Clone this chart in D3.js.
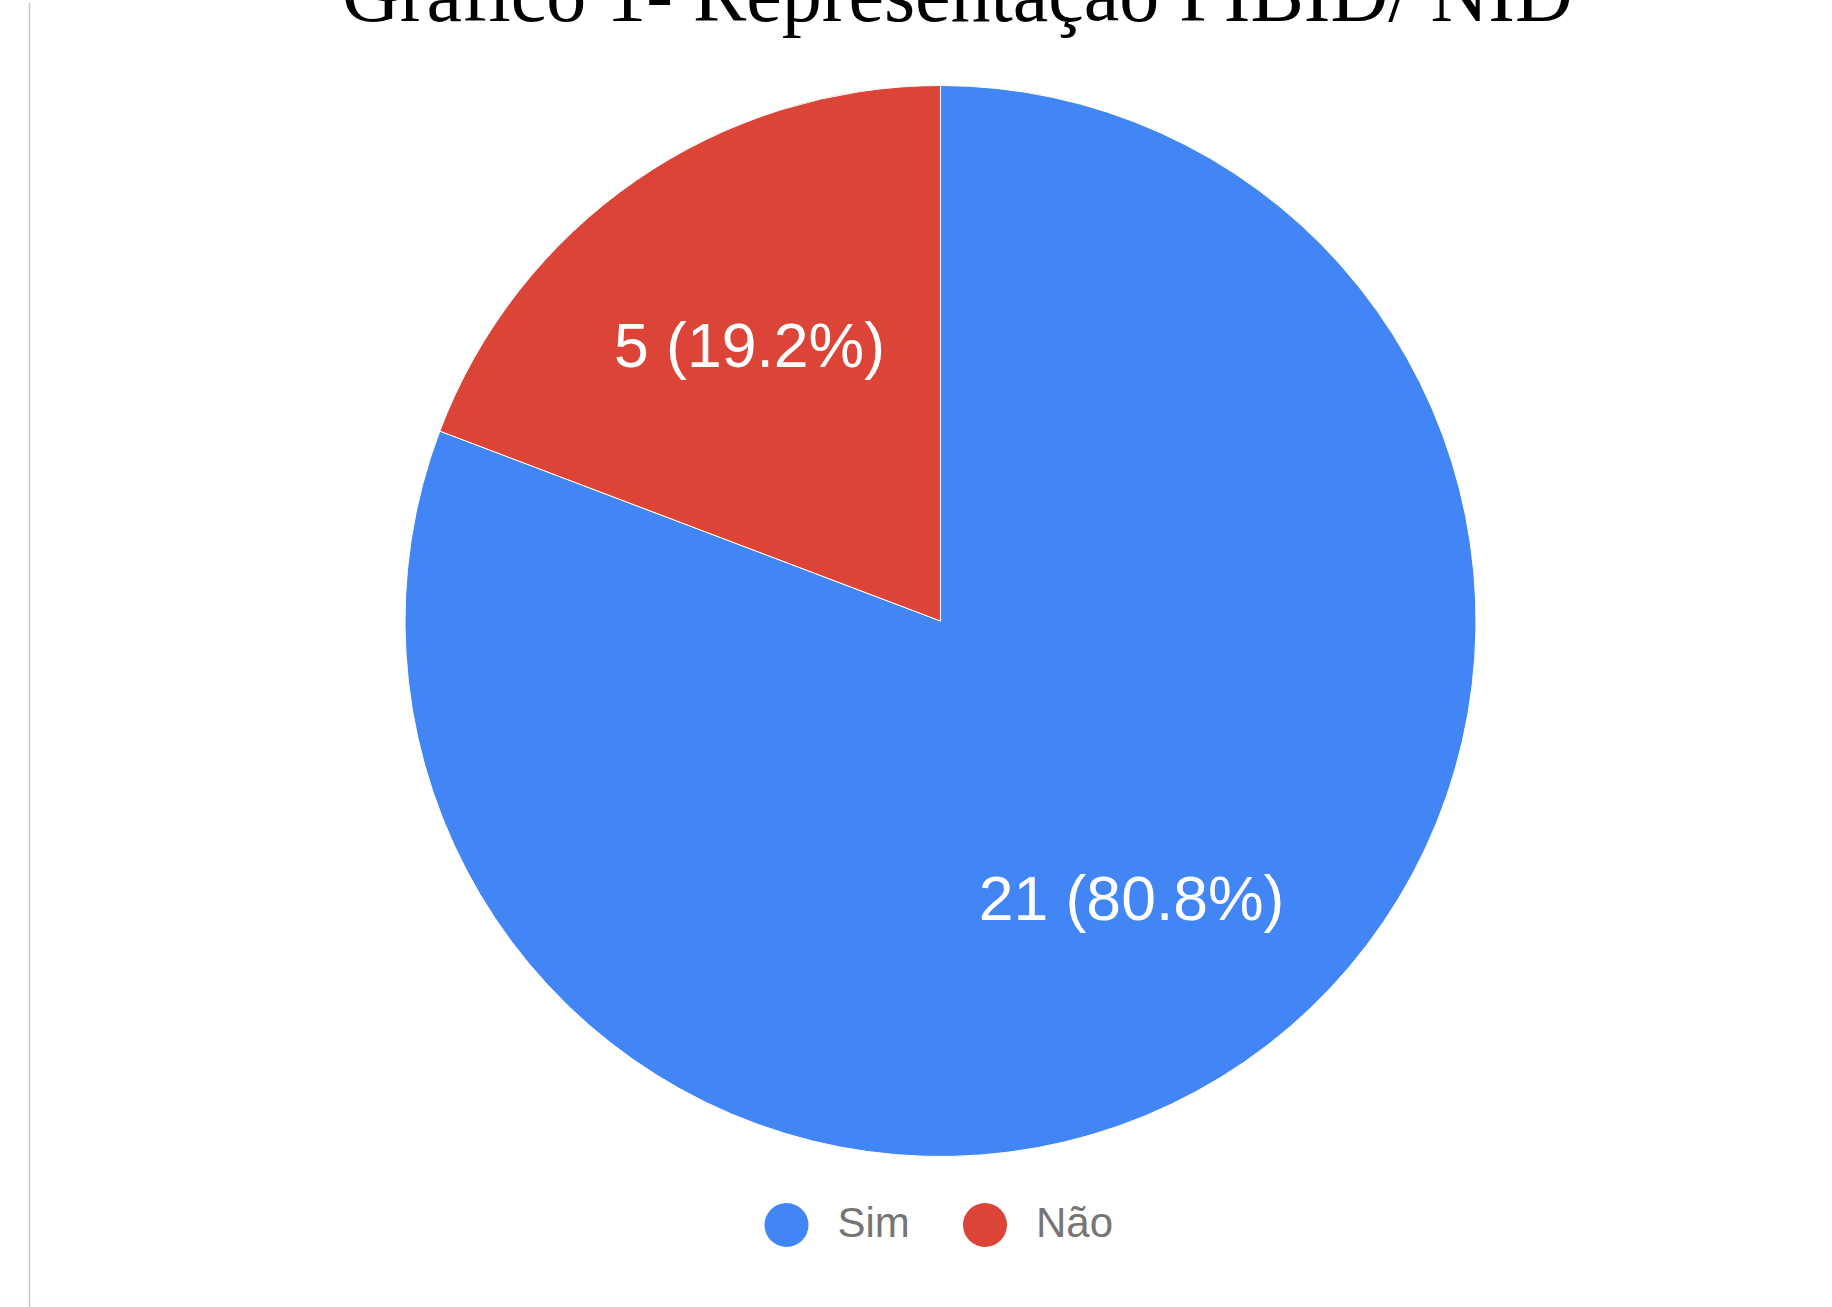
<!DOCTYPE html>
<meta charset="utf-8">
<script src="https://d3js.org/d3.v7.min.js"></script>
<style>
  body { margin: 0; background: #fff; }
</style>
<div id="my_dataviz"></div>

<script>

// data
var categories = ["Sim", "Não"];
var counts = [21, 5];
var colors = ["#4285f4", "#db4437"];
var title = "Gráfico 1- Representação PIBID/ NID";

var width = 1832, height = 1307;
var cx = 940.5, cy = 621, radius = 535.5;

var svg = d3.select("#my_dataviz")
  .append("svg")
    .attr("width", width)
    .attr("height", height);

// thin grey rule on the left
svg.append("line")
  .attr("x1", 29.5).attr("x2", 29.5)
  .attr("y1", 3).attr("y2", height)
  .attr("stroke", "#c8c8c8")
  .attr("stroke-width", 1.5);

// title, cut off at the top like in the original
svg.append("text")
  .attr("x", 342)
  .attr("y", 21)
  .attr("font-family", "'Liberation Serif', 'Times New Roman', serif")
  .attr("font-size", 80)
  .attr("fill", "#000")
  .text(title);

var total = d3.sum(counts);
var data = categories.map(function(c, i) { return {name: c, value: counts[i], color: colors[i]}; });

var pie = d3.pie()
  .sort(null)
  .value(function(d) { return d.value; });

var arc = d3.arc()
  .innerRadius(0)
  .outerRadius(radius);

var labelArc = d3.arc()
  .innerRadius(radius * 0.628)
  .outerRadius(radius * 0.628);

var g = svg.append("g")
  .attr("transform", "translate(" + cx + "," + cy + ")");

var slices = pie(data);

g.selectAll("path")
  .data(slices)
  .enter()
  .append("path")
    .attr("d", arc)
    .attr("fill", function(d) { return d.data.color; })
    .attr("stroke", "#fff")
    .attr("stroke-width", 1);

g.selectAll("text.lbl")
  .data(slices)
  .enter()
  .append("text")
    .attr("class", "lbl")
    .attr("transform", function(d) { return "translate(" + labelArc.centroid(d) + ")"; })
    .attr("text-anchor", "middle")
    .attr("dy", "0.36em")
    .attr("font-family", "'Liberation Sans', Arial, sans-serif")
    .attr("font-size", 62.5)
    .attr("fill", "#fff")
    .text(function(d) {
      return d.data.value + " (" + (d.data.value / total * 100).toFixed(1) + "%)";
    });

// legend
var legendX = [786.5, 985];
var legend = svg.append("g");
var items = legend.selectAll("g")
  .data(data)
  .enter()
  .append("g")
    .attr("transform", function(d, i) { return "translate(" + legendX[i] + ",1225)"; });

items.append("circle")
  .attr("r", 22)
  .attr("fill", function(d) { return d.color; });

items.append("text")
  .attr("x", 51)
  .attr("y", 12)
  .attr("font-family", "'Liberation Sans', Arial, sans-serif")
  .attr("font-size", 42)
  .attr("fill", "#757575")
  .text(function(d) { return d.name; });

</script>
